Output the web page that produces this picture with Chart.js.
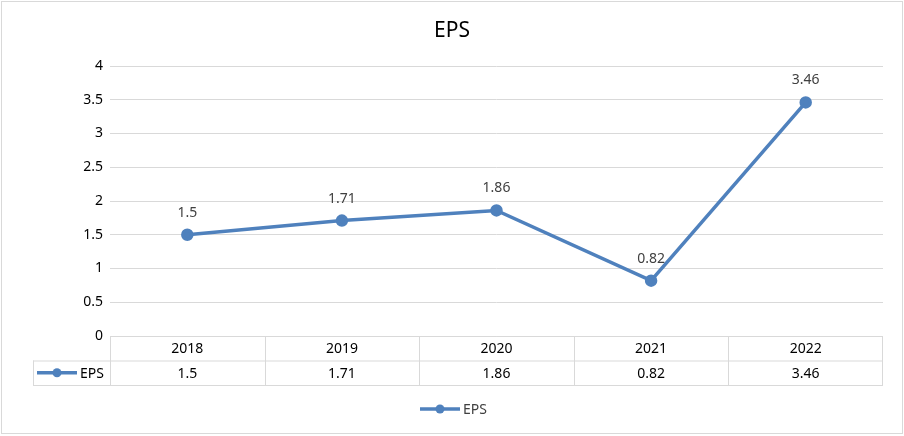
<!DOCTYPE html>
<html>
<head>
<meta charset="utf-8">
<script src="https://cdn.jsdelivr.net/npm/chart.js@4"></script>
<style>
  body { margin: 0; background: #fff; }
  canvas { display: block; }
</style>
</head>
<body>
<canvas id="epsChart" width="904" height="436"></canvas>
<script>
const years = ["2018", "2019", "2020", "2021", "2022"];
const eps = [1.5, 1.71, 1.86, 0.82, 3.46];
const seriesName = "EPS";
const chartTitle = "EPS";

const blue = "#4f81bd";
const gridGray = "#d9d9d9";
const textGray = "#404040";
const font = "'Noto Sans', sans-serif";

// border around the whole chart + title
const frame = {
    id: "frame",
    beforeDraw(chart) {
        const ctx = chart.ctx;
        ctx.save();
        ctx.fillStyle = "#fff";
        ctx.fillRect(0, 0, chart.width, chart.height);
        ctx.strokeStyle = gridGray;
        ctx.lineWidth = 1;
        ctx.strokeRect(1.5, 1.5, chart.width - 3, chart.height - 4);
        ctx.font = "21px " + font;
        ctx.fillStyle = "#000";
        ctx.textAlign = "center";
        ctx.textBaseline = "middle";
        ctx.fillText(chartTitle, chart.width / 2, 31);
        ctx.restore();
    }
};

// value labels above points
const pointLabels = {
    id: "pointLabels",
    afterDatasetsDraw(chart) {
        const ctx = chart.ctx;
        const meta = chart.getDatasetMeta(0);
        ctx.save();
        ctx.font = "14px " + font;
        ctx.fillStyle = textGray;
        ctx.textAlign = "center";
        ctx.textBaseline = "middle";
        meta.data.forEach((pt, i) => {
            ctx.fillText(String(eps[i]), pt.x, pt.y - 22);
        });
        ctx.restore();
    }
};

function legendKey(ctx, x, y) {
    ctx.strokeStyle = blue;
    ctx.lineWidth = 3.5;
    ctx.beginPath();
    ctx.moveTo(x, y);
    ctx.lineTo(x + 40, y);
    ctx.stroke();
    ctx.fillStyle = blue;
    ctx.beginPath();
    ctx.arc(x + 20, y, 4.5, 0, Math.PI * 2);
    ctx.fill();
}

// data table under the x axis + legend
const dataTable = {
    id: "dataTable",
    afterDraw(chart) {
        const ctx = chart.ctx;
        const x = chart.scales.x;
        const area = chart.chartArea;
        const top = area.bottom;
        const rowH = 24.5;
        const step = x.getPixelForValue(1) - x.getPixelForValue(0);
        const left = area.left;
        const right = area.right;
        const keyLeft = 33;

        ctx.save();
        ctx.strokeStyle = gridGray;
        ctx.lineWidth = 1;
        ctx.beginPath();
        // horizontal lines
        ctx.moveTo(left, top + 0.5);
        ctx.lineTo(right, top + 0.5);
        ctx.moveTo(keyLeft, top + rowH + 0.5);
        ctx.lineTo(right, top + rowH + 0.5);
        ctx.moveTo(keyLeft, top + rowH * 2 + 0.5);
        ctx.lineTo(right, top + rowH * 2 + 0.5);
        // vertical lines
        ctx.moveTo(keyLeft + 0.5, top + rowH);
        ctx.lineTo(keyLeft + 0.5, top + rowH * 2);
        years.forEach((y, i) => {
            const xl = Math.round(x.getPixelForValue(i) - step / 2) + 0.5;
            ctx.moveTo(xl, top);
            ctx.lineTo(xl, top + rowH * 2);
        });
        ctx.moveTo(Math.round(right) - 0.5, top);
        ctx.lineTo(Math.round(right) - 0.5, top + rowH * 2);
        ctx.stroke();

        ctx.font = "14px " + font;
        ctx.fillStyle = "#000";
        ctx.textAlign = "center";
        ctx.textBaseline = "middle";
        years.forEach((y, i) => {
            const cx = x.getPixelForValue(i);
            ctx.fillText(y, cx, top + rowH / 2 + 1);
            ctx.fillText(String(eps[i]), cx, top + rowH * 1.5 + 1);
        });

        // series key in the table
        legendKey(ctx, 37, top + rowH * 1.5);
        ctx.fillStyle = "#000";
        ctx.textAlign = "left";
        ctx.fillText(seriesName, 80, top + rowH * 1.5 + 1);

        // legend below
        const ly = 409;
        legendKey(ctx, 420, ly);
        ctx.fillStyle = textGray;
        ctx.fillText(seriesName, 463, ly + 1);
        ctx.restore();
    }
};

new Chart(document.getElementById("epsChart"), {
    type: "line",
    data: {
        labels: years,
        datasets: [{
            label: seriesName,
            data: eps,
            borderColor: blue,
            backgroundColor: blue,
            borderWidth: 3.5,
            pointRadius: 4.5,
            pointHoverRadius: 4.5,
            tension: 0
        }]
    },
    options: {
        responsive: false,
        animation: false,
        layout: { padding: { top: 66, right: 21, bottom: 0, left: 0 } },
        plugins: {
            legend: { display: false },
            tooltip: { enabled: false },
            title: { display: false }
        },
        scales: {
            x: {
                offset: true,
                grid: { display: false },
                border: { display: false },
                ticks: { display: false },
                afterFit(scale) { scale.height = 100; }
            },
            y: {
                min: 0,
                max: 4,
                ticks: {
                    stepSize: 0.5,
                    padding: 7,
                    color: "#000",
                    font: { family: font, size: 14 },
                    callback: (v) => String(v)
                },
                grid: { color: gridGray, drawTicks: false },
                border: { display: false },
                afterFit(scale) { scale.width = 110; }
            }
        }
    },
    plugins: [frame, pointLabels, dataTable]
});
</script>
</body>
</html>
